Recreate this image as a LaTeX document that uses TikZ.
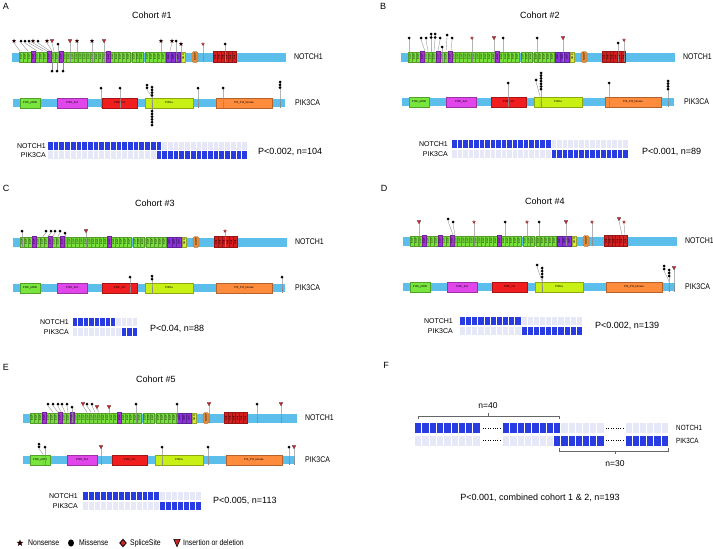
\documentclass[tikz,border=0pt]{standalone}
\usepackage{fontspec}
\setmainfont{Liberation Sans}
\newfontfamily\narrowfont[FakeStretch=0.84]{Liberation Sans}
\definecolor{barblue}{RGB}{92,190,235}
\definecolor{egfg}{RGB}{120,225,60}
\definecolor{capc}{RGB}{165,50,215}
\definecolor{lnrc}{RGB}{140,50,220}
\definecolor{nodc}{RGB}{215,235,60}
\definecolor{nodpc}{RGB}{225,140,60}
\definecolor{ankc}{RGB}{215,30,30}
\definecolor{p85c}{RGB}{120,230,60}
\definecolor{rbdc}{RGB}{225,70,235}
\definecolor{ctwoc}{RGB}{240,30,30}
\definecolor{pikac}{RGB}{200,240,20}
\definecolor{kinc}{RGB}{255,140,60}
\definecolor{filc}{RGB}{40,60,225}
\definecolor{empc}{RGB}{230,232,248}
\definecolor{stemgray}{RGB}{140,140,140}
\definecolor{tred}{RGB}{205,35,35}
\definecolor{sred}{RGB}{165,50,50}
\tikzset{
  dom/.style={draw=#1!70!black, fill=#1, line width=0.2},
  tiny/.style={font=\fontsize{2.8}{2.8}\selectfont, inner sep=0},
  tinyr/.style={font=\fontsize{2.6}{2.6}\selectfont, inner sep=0, rotate=90},
  stem/.style={draw=stemgray, line width=0.35},
  olab/.style={font=\fontsize{7}{8}\selectfont, inner sep=0},
  glab/.style={font=\narrowfont\fontsize{8.3}{9}\selectfont, inner sep=0, anchor=west},
  flab/.style={font=\narrowfont\fontsize{7.5}{8}\selectfont, inner sep=0, anchor=west},
  pval/.style={font=\fontsize{9}{10}\selectfont, inner sep=0, anchor=west},
  ttl/.style={font=\fontsize{9}{10}\selectfont, inner sep=0},
  plet/.style={font=\fontsize{9}{10}\selectfont, inner sep=0},
  leg/.style={font=\narrowfont\fontsize{8.2}{9}\selectfont, inner sep=0, anchor=west},
  brk/.style={draw=black!60, line width=0.5},
  dotl/.style={draw=black, line width=0.6, dash pattern=on 0.8pt off 1.6pt},
}
% heads
\newcommand\lhc[2]{\fill[black] (#1,#2) circle (1.5);}
\newcommand\lhs[2]{\fill[black!85!red] (#1,#2) +(270:2.3) -- +(306:0.95) -- +(342:2.3) -- +(18:0.95) -- +(54:2.3) -- +(90:0.95) -- +(126:2.3) -- +(162:0.95) -- +(198:2.3) -- +(234:0.95) -- cycle;}
\newcommand\lhr[2]{\fill[sred] (#1,#2) +(270:2) -- +(306:0.85) -- +(342:2) -- +(18:0.85) -- +(54:2) -- +(90:0.85) -- +(126:2) -- +(162:0.85) -- +(198:2) -- +(234:0.85) -- cycle;}
\newcommand\lhtri[2]{\filldraw[fill=tred, draw=black!70, line width=0.2] ({#1-2},{#2-1.6}) -- ({#1+2},{#2-1.6}) -- (#1,{#2+1.8}) -- cycle;}
% lollipop: base, headx, heady, head macro
\newcommand\lolli[4]{\draw[stem] (#2,#3) -- (#2,{#3+2}) -- (#1,-1) -- (#1,10); #4{#2}{#3}}
% stack: base, headx, heady(top), n, dy
\newcommand\lstk[5]{\draw[stem] (#2,#3) -- (#2,{#3+(#4-1)*#5+2}) -- (#1,-1) -- (#1,10);
  \foreach \k in {1,...,#4}{\fill[black] (#2,{#3+(\k-1)*#5}) circle (1.5);}}
% stack below bar: x, ytop, n, dy
\newcommand\lstkb[4]{\draw[stem] (#1,10) -- (#1,{#2+(#3-1)*#4});
  \foreach \k in {1,...,#3}{\fill[black] (#1,{#2+(\k-1)*#4}) circle (1.5);}}
% NOTCH1 protein
\newcommand\notchone[3]{%
\begin{scope}[shift={(#2,#3)}]
\fill[barblue] (0,0.5) rectangle (274,9.5);
\foreach \i in {0,...,27}{%
  \draw[dom=egfg] ({7+3.964*\i},0) rectangle ++(3.964,10);
  \node[tinyr] (#1-ea\i) at ({7+3.964*\i+1.98},5) {EGF};}
\foreach \i in {0,1,2}{%
  \draw[dom=egfg] ({120+3.667*\i},0) rectangle ++(3.667,10);
  \node[tinyr] (#1-eb\i) at ({120+3.667*\i+1.83},5) {EGF};}
\foreach \i in {0,...,4}{%
  \draw[dom=egfg] ({133+4*\i},0) rectangle ++(4,10);
  \node[tinyr] (#1-ec\i) at ({133+4*\i+2},5) {EGF};}
\foreach \i in {3,7,10,22}{%
  \draw[dom=capc] ({7+3.964*\i},-0.5) rectangle ++(3.964,11);
  \node[tinyr] (#1-ep\i) at ({7+3.964*\i+1.98},5) {EGF};}
\foreach \i in {0,1,2}{%
  \draw[dom=lnrc] ({154+4.67*\i},0) rectangle ++(4.67,10);
  \node[tinyr] (#1-l\i) at ({154+4.67*\i+2.33},5) {LNR};}
\draw[dom=nodc] (169,0) rectangle (173.5,10);
\node[tinyr] (#1-nod) at (171.25,5) {NOD};
\draw[dom=nodpc, rounded corners=1.5] (180,-0.5) rectangle (186,10.5);
\node[tinyr] (#1-nodp) at (183,5) {NODP};
\foreach \i in {0,...,5}{%
  \draw[dom=ankc] ({201+3.83*\i},-0.5) rectangle ++(3.83,11);
  \node[tinyr] (#1-a\i) at ({201+3.83*\i+1.92},5) {Ank};}
\node[glab] (#1-n1) at (282,5) {NOTCH1};
\end{scope}}
% PIK3CA protein
\newcommand\pikca[3]{%
\begin{scope}[shift={(#2,#3)}]
\fill[barblue] (0,1) rectangle (272,9);
\draw[dom=p85c] (7,0) rectangle (27,10); \node[tiny] (#1-d1) at (17,5) {PI3K\_p85B};
\draw[dom=rbdc] (44,0) rectangle (74,10); \node[tiny] (#1-d2) at (59,5) {PI3K\_rbd};
\draw[dom=ctwoc] (89,0) rectangle (124,10); \node[tiny] (#1-d3) at (106.5,5) {PI3K\_C2};
\draw[dom=pikac] (132,0) rectangle (180,10); \node[tiny] (#1-d4) at (156,5) {PI3Ka};
\draw[dom=kinc] (203,0) rectangle (259,10); \node[tiny] (#1-d5) at (231,5) {PI3\_PI4\_kinase};
\node[glab] (#1-p1) at (282,5) {PIK3CA};
\end{scope}}
% oncoprint: prefix, x, y, w, N, a, b, rowgap, labelgap
\newcommand\onco[9]{%
\foreach \i in {1,...,#5}{%
  \ifnum\i>#6 \def\ca{empc}\else\def\ca{filc}\fi
  \ifnum\i<#7 \def\cb{empc}\else\def\cb{filc}\fi
  \fill[\ca] ({#2+(\i-1)*#4},#3) rectangle ++({#4-1},8);
  \fill[\cb] ({#2+(\i-1)*#4},{#3+8+#8}) rectangle ++({#4-1},8);}
\node[olab,anchor=east] (#1-on) at ({#2-#9},{#3+4}) {NOTCH1};
\node[olab,anchor=east] (#1-op) at ({#2-#9},{#3+12+#8}) {PIK3CA};}
\begin{document}
\begin{tikzpicture}[x=1pt,y=-1pt]
\useasboundingbox (0,0) rectangle (713,549);
\fill[white] (0,0) rectangle (713,549);
% ---------- Panel A ----------
\node[plet] (A-let) at (6,6) {A};
\node[ttl] (A-ttl) at (152,15) {Cohort \#1};
\notchone{A}{12}{52}
\begin{scope}[shift={(12,52)}]
\lolli{8}{2}{-11}{\lhs}
\lolli{16}{9}{-11}{\lhc}
\lolli{25}{13}{-11}{\lhc}
\lolli{31}{17}{-11}{\lhc}
\lolli{35}{21}{-11}{\lhs}
\lolli{38}{26}{-11}{\lhc}
\lolli{40}{35}{-11}{\lhs}
\lolli{42}{40}{-11}{\lhtri}
\lolli{46}{46}{-8}{\lhc}
\lolli{58}{58}{-11}{\lhtri}
\lolli{65}{65}{-11}{\lhs}
\lolli{80}{80}{-11}{\lhs}
\lolli{92}{92}{-11}{\lhtri}
\lolli{149}{149}{-11}{\lhs}
\lolli{158}{160}{-11}{\lhs}
\lolli{164}{164}{-11}{\lhc}
\lolli{169}{169}{-8}{\lhs}
\lolli{191}{191}{-8}{\lhr}
\lolli{213}{213}{-8}{\lhc}
\lstkb{40}{19}{1}{3}
\lstkb{45}{19}{1}{3}
\lstkb{51}{19}{1}{3}
\end{scope}
\pikca{A}{13}{98}
\begin{scope}[shift={(13,98)}]
\lolli{88}{88}{-10}{\lhc}
\lolli{107}{107}{-10}{\lhc}
\lstk{139}{134}{-13}{2}{2.8}
\lstk{139}{139}{-11}{4}{2.8}
\lstkb{139}{13}{6}{2.8}
\lolli{185}{185}{-10}{\lhc}
\lolli{210}{210}{-10}{\lhc}
\lstk{267}{267}{-16}{3}{2.8}
\end{scope}
\onco{A}{48}{142}{5.714}{35}{20}{20}{1}{2}
\node[pval] (A-pv) at (258,152) {P<0.002, n=104};
% ---------- Panel B ----------
\node[plet] (B-let) at (383,6) {B};
\node[ttl] (B-ttl) at (540,15) {Cohort \#2};
\notchone{B}{401}{52}
\begin{scope}[shift={(401,52)}]
\lolli{8}{8}{-14}{\lhc}
\lolli{24}{20}{-14}{\lhc}
\lolli{27}{25}{-14}{\lhc}
\lstk{30}{30}{-18}{2}{3.5}
\lstk{33}{34}{-18}{2}{3.5}
\lolli{37}{39}{-14}{\lhc}
\lolli{41}{41}{-5}{\lhc}
\lolli{45}{46}{-17}{\lhc}
\lolli{50}{51}{-14}{\lhc}
\lolli{71}{71}{-14}{\lhr}
\lolli{93}{93}{-14}{\lhtri}
\lolli{102}{102}{-14}{\lhc}
\lolli{136}{136}{-14}{\lhc}
\lolli{162}{162}{-14}{\lhtri}
\lolli{217}{217}{-9}{\lhc}
\lolli{223}{223}{-12}{\lhr}
\end{scope}
\pikca{B}{402}{97}
\begin{scope}[shift={(402,97)}]
\lolli{106}{106}{-14}{\lhc}
\lolli{138}{134}{-17}{\lhc}
\lstk{139}{139}{-24}{7}{2.7}
\lolli{207}{207}{-14}{\lhc}
\lstk{266}{266}{-16}{4}{2.7}
\end{scope}
\onco{B}{452}{140}{5.53}{32}{18}{19}{2}{4}
\node[pval] (B-pv) at (642,152) {P<0.001, n=89};
% ---------- Panel C ----------
\node[plet] (C-let) at (6,188) {C};
\node[ttl] (C-ttl) at (155,203) {Cohort \#3};
\notchone{C}{13}{237}
\begin{scope}[shift={(13,237)}]
\lolli{9}{9}{-6}{\lhc}
\lolli{30}{33}{-6}{\lhc}
\lolli{35}{38}{-6}{\lhc}
\lolli{40}{42}{-6}{\lhc}
\lolli{45}{47}{-6}{\lhc}
\lolli{52}{52}{-4}{\lhc}
\lolli{73}{73}{-6}{\lhtri}
\lolli{212}{212}{-6}{\lhr}
\end{scope}
\pikca{C}{13}{283}
\begin{scope}[shift={(13,283)}]
\lolli{117}{117}{-6}{\lhc}
\lstk{139}{139}{-7}{2}{3}
\lolli{269}{269}{-6}{\lhc}
\end{scope}
\onco{C}{73}{318}{5.42}{12}{8}{10}{2}{4}
\node[pval] (C-pv) at (150,329) {P<0.04, n=88};
% ---------- Panel D ----------
\node[plet] (D-let) at (384,188) {D};
\node[ttl] (D-ttl) at (545,201) {Cohort \#4};
\notchone{D}{403}{236}
\begin{scope}[shift={(403,236)}]
\lolli{16}{16}{-14}{\lhtri}
\lolli{50}{45}{-17}{\lhc}
\lolli{52}{50}{-14}{\lhc}
\lolli{71}{71}{-14}{\lhr}
\lolli{102}{102}{-14}{\lhc}
\lolli{124}{124}{-14}{\lhr}
\lolli{136}{136}{-14}{\lhc}
\lolli{163}{163}{-14}{\lhtri}
\lolli{189}{189}{-14}{\lhr}
\lolli{219}{216}{-17}{\lhtri}
\lolli{222}{221}{-14}{\lhr}
\end{scope}
\pikca{D}{403}{282}
\begin{scope}[shift={(403,282)}]
\lolli{139}{134}{-17}{\lhc}
\lstk{139}{139}{-14}{4}{3}
\lstk{266}{261}{-16}{2}{3}
\lstk{266}{266}{-12}{3}{3}
\lolli{271}{271}{-14}{\lhtri}
\end{scope}
\onco{D}{460}{317}{6.15}{20}{10}{11}{2}{7}
\node[pval] (D-pv) at (595,326) {P<0.002, n=139};
% ---------- Panel E ----------
\node[plet] (E-let) at (6,367) {E};
\node[ttl] (E-ttl) at (156,379) {Cohort \#5};
\notchone{E}{23}{413}
\begin{scope}[shift={(23,413)}]
\lolli{30}{25}{-9}{\lhc}
\lolli{35}{30}{-9}{\lhc}
\lolli{38}{35}{-9}{\lhc}
\lolli{42}{39}{-9}{\lhc}
\lolli{45}{44}{-9}{\lhc}
\lolli{49}{49}{-6}{\lhc}
\lolli{64}{60}{-9}{\lhtri}
\lolli{68}{64}{-9}{\lhc}
\lolli{72}{69}{-9}{\lhc}
\lolli{76}{74}{-6}{\lhtri}
\lolli{86}{86}{-6}{\lhtri}
\lolli{113}{113}{-9}{\lhc}
\lolli{154}{154}{-9}{\lhc}
\lolli{186}{186}{-9}{\lhtri}
\lolli{234}{234}{-9}{\lhc}
\lolli{258}{258}{-9}{\lhtri}
\end{scope}
\pikca{E}{23}{455}
\begin{scope}[shift={(23,455)}]
\lstk{20}{16}{-11}{2}{2.8}
\lolli{22}{22}{-8}{\lhc}
\lolli{78}{78}{-8}{\lhtri}
\lolli{139}{139}{-8}{\lhc}
\lolli{185}{185}{-8}{\lhc}
\lolli{266}{266}{-8}{\lhc}
\lolli{271}{271}{-8}{\lhtri}
\end{scope}
\onco{E}{83}{492}{5.95}{20}{13}{14}{2}{5}
\node[pval] (E-pv) at (213,501) {P<0.005, n=113};
% ---------- Panel F ----------
\node[plet] (F-let) at (386,365) {F};
\foreach \i in {0,...,8}{%
  \fill[filc] ({415+7.3*\i},423) rectangle ++(6.3,10);
  \fill[empc] ({415+7.3*\i},435.5) rectangle ++(6.3,10);}
\foreach \i in {0,...,7}{%
  \fill[filc] ({503+7.3*\i},423) rectangle ++(6.3,10);
  \ifnum\i=7 \def\cc{filc}\else\def\cc{empc}\fi
  \fill[\cc] ({503+7.3*\i},435.5) rectangle ++(6.3,10);}
\foreach \i in {0,...,5}{%
  \fill[empc] ({561.4+7.2*\i},423) rectangle ++(6.2,10);
  \fill[filc] ({561.4+7.2*\i},435.5) rectangle ++(6.2,10);
  \fill[empc] ({625.5+7.2*\i},423) rectangle ++(6.2,10);
  \fill[filc] ({625.5+7.2*\i},435.5) rectangle ++(6.2,10);}
\draw[dotl] (483,428) -- (502,428);
\draw[dotl] (483,440.5) -- (502,440.5);
\draw[dotl] (606,428) -- (624.5,428);
\draw[dotl] (606,440.5) -- (624.5,440.5);
\draw[brk] (418,419) -- (418,416) -- (559,416) -- (559,419);
\draw[brk] (488,416) -- (488,413);
\node[font=\fontsize{8.5}{9}\selectfont, inner sep=0] (F-n40) at (488,406) {n=40};
\draw[brk] (559,448) -- (559,451) -- (668,451) -- (668,448);
\draw[brk] (615,451) -- (615,454);
\node[font=\fontsize{8.5}{9}\selectfont, inner sep=0] (F-n30) at (615,464) {n=30};
\node[flab] (F-on) at (676,428) {NOTCH1};
\node[flab] (F-op) at (676,440.5) {PIK3CA};
\node[ttl] (F-pv) at (540,498) {P<0.001, combined cohort 1 \& 2, n=193};
% ---------- Legend ----------
\fill[black!85!red] (20,543) +(270:3.6) -- +(306:1.5) -- +(342:3.6) -- +(18:1.5) -- +(54:3.6) -- +(90:1.5) -- +(126:3.6) -- +(162:1.5) -- +(198:3.6) -- +(234:1.5) -- cycle;
\node[leg] (L-ns) at (28,543) {Nonsense};
\fill[black] (71,543) ellipse (3 and 3.6);
\node[leg] (L-ms) at (79,543) {Missense};
\filldraw[fill=tred, draw=black, line width=0.8] (123,539.3) -- (126.2,543) -- (123,546.7) -- (119.8,543) -- cycle;
\node[leg] (L-ss) at (130,543) {SpliceSite};
\filldraw[fill=tred, draw=black, line width=0.6] (173.8,539.3) -- (180.2,539.3) -- (177,546.7) -- cycle;
\node[leg] (L-id) at (183,543) {Insertion or deletion};
\end{tikzpicture}
\end{document}
